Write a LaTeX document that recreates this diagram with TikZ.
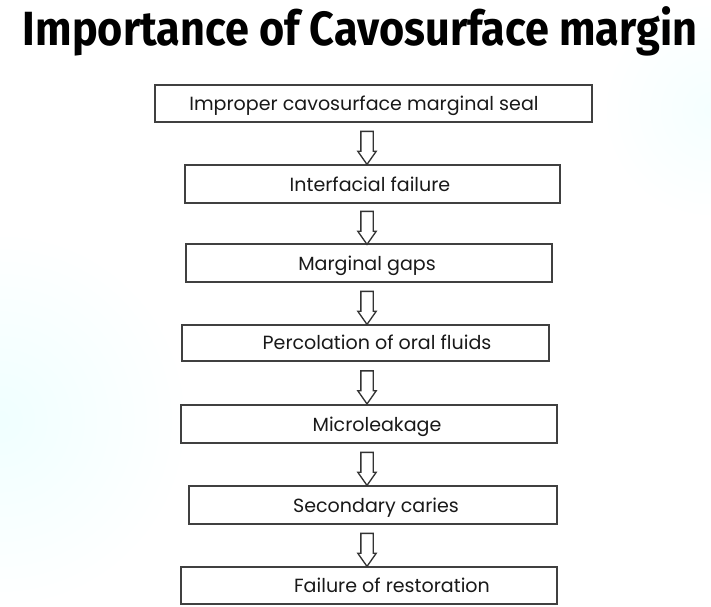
\documentclass[tikz,border=0pt]{standalone}
\usepackage{fontspec}
\setmainfont{Poppins}
\newfontfamily\titlefont{Fira Sans}
\usetikzlibrary{positioning,calc,shapes.arrows}

\begin{document}
\begin{tikzpicture}[x=0.75pt,y=-0.75pt]
		\tikzstyle{stage}=[rectangle, draw=black!75, line width=1pt, inner sep=0pt]
		\tikzstyle{caption}=[text=black!90, inner sep=0pt, anchor=base, font=\fontsize{14.3}{16}\selectfont]
		\tikzstyle{downarrow}=[single arrow, draw=black!80, line width=1pt, shape border rotate=270, single arrow head extend=2.25pt, single arrow tip angle=70, inner sep=4.125pt, minimum width=0pt, minimum height=24.75pt]
		
		% Frame
		\useasboundingbox (0,0) rectangle (711,607);
		\shade[inner color=cyan!6!white, outer color=white] (0,420) circle (190);
		\shade[inner color=cyan!4!white, outer color=white] (711,110) circle (110);
		
		% Title
		\node at (360,31) (title) {\titlefont\bfseries\fontsize{36}{40}\selectfont\scalebox{0.9}[1]{Importance of Cavosurface margin}};
		
		% Stages
		\foreach \n/\xa/\xb/\ya/\yb/\tx/\t in {1/155/592/85/122/364/Improper cavosurface marginal seal, 2/185/560/165/203/370/Interfacial failure, 3/186/552/244/282/367/Marginal gaps, 4/182/549/325/361/377/Percolation of oral fluids, 5/181/557/405/443/377/Microleakage, 6/189/557/486/524/376/Secondary caries, 7/181/557/567/604/392/Failure of restoration}
		{
		\node[stage, minimum width={(\xb-\xa)*0.75pt}, minimum height={(\yb-\ya)*0.75pt}] at ({(\xa+\xb)/2}, {(\ya+\yb)/2}) (box_\n) {};
		\node[caption] at (\tx, \yb-12) (txt_\n) {\t};
		}
		
		% Arrows
		\coordinate (axis) at (367,0);
		\foreach \i [evaluate=\i as \j using int(\i+1)] in {1,...,6}
		{
		\path ($(box_\i.south)!0.5!(box_\j.north)$) coordinate (mid_\i);
		\node[downarrow] at (axis |- mid_\i) (arrow_\i) {};
		}
		
\end{tikzpicture}
\end{document}
